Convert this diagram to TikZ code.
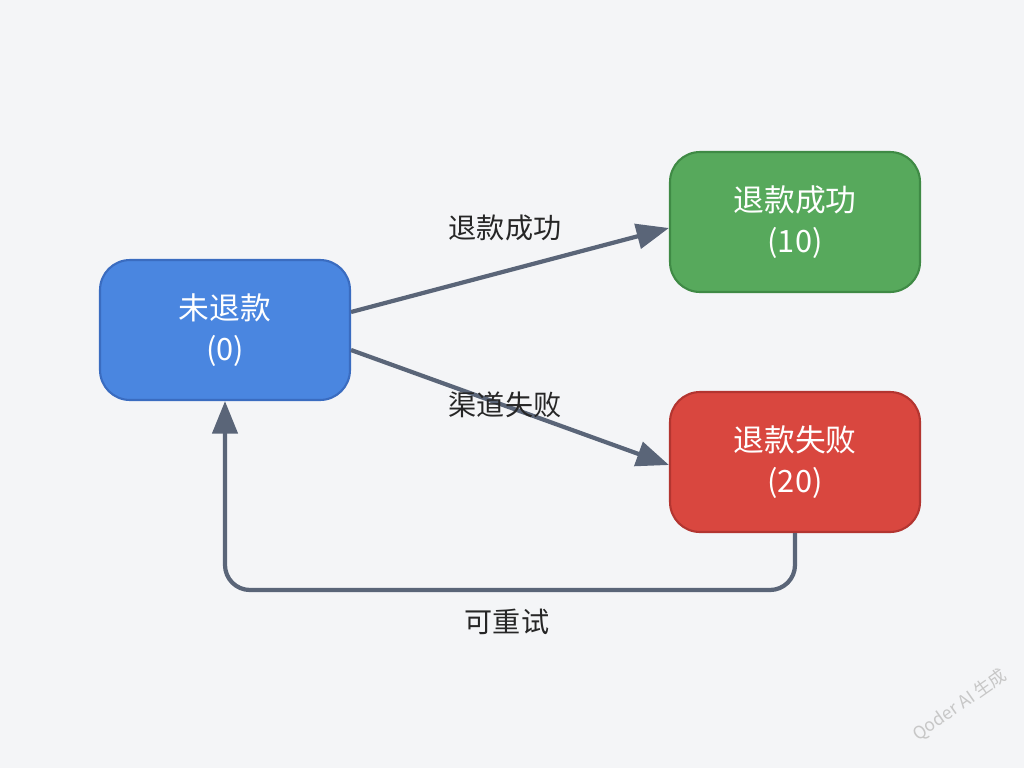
\documentclass[tikz,border=0pt]{standalone}
\usepackage{fontspec}
\setmainfont{Noto Sans CJK SC}
\usetikzlibrary{arrows.meta}
\definecolor{bg}{HTML}{F4F5F7}
\definecolor{ln}{HTML}{5A6578}
\definecolor{cb}{HTML}{4A86E0}\definecolor{cbd}{HTML}{3A6CC0}
\definecolor{cg}{HTML}{57A95C}\definecolor{cgd}{HTML}{3F8A45}
\definecolor{cr}{HTML}{D9473F}\definecolor{crd}{HTML}{B33530}
\begin{document}
\begin{tikzpicture}[x=0.02cm,y=-0.02cm,
 st/.style={rounded corners=0.6cm,minimum width=5cm,minimum height=2.8cm,line width=1.2pt,text=white,font=\fontsize{17.5}{23}\selectfont,align=center},
 ar/.style={draw=ln,line width=2.4pt,-{Triangle[length=0.65cm,width=0.5cm]}},
 lb/.style={font=\fontsize{16}{19}\selectfont,text=black!85}]
\fill[bg] (0,0) rectangle (1024,768);
\useasboundingbox (0,0) rectangle (1024,768);
\node[st,fill=cb,draw=cbd] (a) at (225,330) {未退款\\(0)};
\node[st,fill=cg,draw=cgd] (b) at (795,222) {退款成功\\(10)};
\node[st,fill=cr,draw=crd] (c) at (795,462) {退款失败\\(20)};
\draw[ar] (a.east|-0,312) -- (b.west|-0,228);
\draw[ar] (a.east|-0,350) -- (c.west|-0,465);
\node[lb] (l1) at (505,228) {退款成功};
\node[lb] (l2) at (505,405) {渠道失败};
\draw[ar,rounded corners=0.5cm] (c.south) -- (795,590) -- (225,590) -- (a.south);
\node[lb] (l3) at (507,622) {可重试};
\node[rotate=35,text=black!22,font=\fontsize{10}{12}\selectfont] (w) at (960,705) {Qoder AI 生成};
\end{tikzpicture}
\end{document}
